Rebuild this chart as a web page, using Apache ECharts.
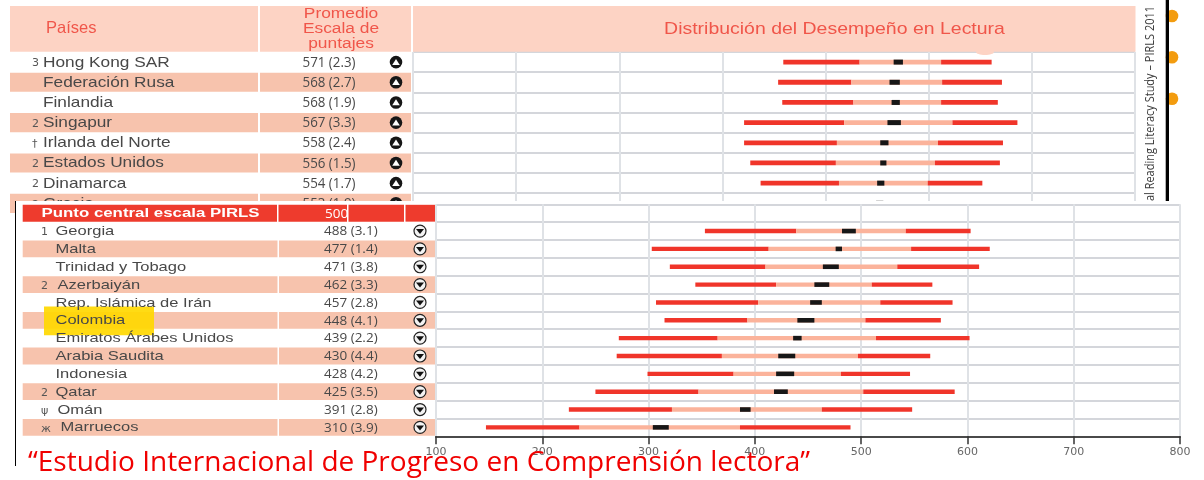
<!DOCTYPE html>
<html>
<head>
<meta charset="utf-8">
<title>PIRLS 2011</title>
<style>
  html, body { margin: 0; padding: 0; background: #fff; }
  #chart { width: 1204px; height: 480px; }
</style>
<script src="https://cdn.jsdelivr.net/npm/echarts@6/dist/echarts.min.js"></script>
</head>
<body>
<div id="chart"></div>
<script>
// top panel
var topCountries = ['Hong Kong SAR', 'Federación Rusa', 'Finlandia', 'Singapur', 'Irlanda del Norte', 'Estados Unidos', 'Dinamarca', 'Grecia'];
var topMarks = ['3', '', '', '2', '†', '2', '2', '2'];
var topScores = ['571 (2.3)', '568 (2.7)', '568 (1.9)', '567 (3.3)', '558 (2.4)', '556 (1.5)', '554 (1.7)', '553 (1.9)'];
var topP5 = [459, 454, 458, 421, 421, 427, 437, 448];
var topP25 = [533, 525, 527, 518, 511, 510, 513, 514];
var topLow = [566, 562, 564, 560, 553, 553, 550, 549];
var topHigh = [575, 572, 572, 573, 561, 559, 557, 556];
var topP75 = [612, 613, 612, 623, 609, 606, 599, 594];
var topP95 = [661, 671, 667, 686, 672, 669, 652, 647];

// bottom panel, first row is the scale centre point and has no bar
var botCountries = ['Punto central escala PIRLS', 'Georgia', 'Malta', 'Trinidad y Tobago', 'Azerbaiyán', 'Rep. Islámica de Irán', 'Colombia', 'Emiratos Árabes Unidos', 'Arabia Saudita', 'Indonesia', 'Qatar', 'Omán', 'Marruecos'];
var botMarks = ['', '1', '', '', '2', '', '', '', '', '', '2', 'ψ', 'ж'];
var botScores = ['500', '488 (3.1)', '477 (1.4)', '471 (3.8)', '462 (3.3)', '457 (2.8)', '448 (4.1)', '439 (2.2)', '430 (4.4)', '428 (4.2)', '425 (3.5)', '391 (2.8)', '310 (3.9)'];
var botP5 = [null, 353, 303, 320, 344, 307, 315, 272, 270, 299, 250, 225, 147];
var botP25 = [null, 439, 413, 410, 420, 403, 393, 365, 369, 380, 347, 322, 235];
var botLow = [null, 482, 476, 464, 456, 452, 440, 436, 422, 420, 418, 386, 304];
var botHigh = [null, 495, 482, 479, 470, 463, 456, 444, 438, 437, 431, 396, 319];
var botP75 = [null, 542, 547, 534, 510, 518, 504, 514, 497, 481, 502, 463, 386];
var botP95 = [null, 603, 621, 611, 567, 586, 575, 602, 565, 546, 588, 548, 490];

var axisTicks = ['100', '200', '300', '400', '500', '600', '700', '800'];

var RED = '#f0352a', PALE = '#fbb39b', BLACK = '#171717';
var BAND = '#f7c3ad', HEAD = '#fdd3c4', TITLE = '#f0564a';

var nameShift = { 'Azerbaiyán': 2, 'Omán': 2, 'Marruecos': 5 };

var myChart = echarts.init(document.getElementById('chart'));

function rowsOf(p5, p25, low, high, p75, p95) {
    var out = [];
    p5.forEach(function (v, i) {
        if (v != null) out.push([v, p25[i], low[i], high[i], p75[i], p95[i], i]);
    });
    return out;
}

function renderBars(barH, blackH) {
    return function (params, api) {
        var row = api.value(6);
        function piece(from, to, color, h) {
            var a = api.coord([api.value(from), row]);
            var b = api.coord([api.value(to), row]);
            return { type: 'rect', shape: { x: a[0], y: a[1] - h / 2, width: b[0] - a[0], height: h }, style: { fill: color } };
        }
        return {
            type: 'group',
            children: [
                piece(0, 1, RED, barH),
                piece(1, 4, PALE, barH),
                piece(4, 5, RED, barH),
                piece(2, 3, BLACK, blackH)
            ]
        };
    };
}

// pink stripes behind the table text, the red header row has its own columns
function renderBands(cols, pinkOdd, headCols) {
    return function (params, api) {
        var i = api.value(0);
        var h = api.size([0, 1])[1];
        var y = api.coord([0, i])[1] - h / 2;
        var kids = [];
        var first = headCols && i === 0;
        if (first || (i % 2 === 1) === pinkOdd) {
            (first ? headCols : cols).forEach(function (c) {
                var x0 = api.coord([c[0], i])[0], x1 = api.coord([c[1], i])[0];
                kids.push({ type: 'rect', shape: { x: x0, y: y + 0.5, width: x1 - x0, height: h - 1 }, style: { fill: first ? '#ee3b2d' : BAND } });
            });
        }
        if (headCols && botCountries[i] === 'Colombia') {
            kids.push({ type: 'rect', shape: { x: 44, y: y - 5, width: 110, height: h + 11 }, style: { fill: '#ffd800', opacity: 0.92 } });
        }
        return { type: 'group', children: kids };
    };
}

function renderText(cfg) {
    return function (params, api) {
        var i = api.value(0);
        var y = api.coord([0, i])[1];
        var first = cfg.header && i === 0;
        var color = first ? '#fff' : cfg.color;
        var nameX = cfg.nameX + (first ? -14 : (nameShift[cfg.names[i]] || 0));
        var kids = [{
            type: 'text', x: nameX, y: y + cfg.dy, scaleX: first ? cfg.nameScale * 1.02 : cfg.nameScale,
            style: { text: cfg.names[i], fill: color, font: (first ? 'bold ' : '') + cfg.nameSize + 'px "Liberation Sans"', verticalAlign: 'middle' }
        }, {
            type: 'text', x: first ? cfg.scoreX + 1 : cfg.scoreX, y: y + cfg.dy, scaleX: cfg.scoreScale,
            style: { text: cfg.scores[i], fill: color, font: cfg.scoreSize + 'px "Open Sans"', verticalAlign: 'middle' }
        }];
        if (cfg.marks[i]) {
            kids.push({
                type: 'text', x: cfg.markX, y: y + cfg.dy + 1,
                style: { text: cfg.marks[i], fill: '#555', font: '11px "DejaVu Sans"', verticalAlign: 'middle' }
            });
        }
        if (!first) {
            if (cfg.up) {
                kids.push({ type: 'circle', shape: { cx: cfg.iconX, cy: y, r: 6.3 }, style: { fill: '#161616' } });
                kids.push({ type: 'polygon', shape: { points: [[cfg.iconX, y - 3.2], [cfg.iconX + 3.8, y + 2.8], [cfg.iconX - 3.8, y + 2.8]] }, style: { fill: '#fff' } });
            } else {
                kids.push({ type: 'circle', shape: { cx: cfg.iconX, cy: y, r: 6 }, style: { fill: '#f3f3f3', stroke: '#222', lineWidth: 1.2 } });
                kids.push({ type: 'polygon', shape: { points: [[cfg.iconX - 4, y - 2], [cfg.iconX + 4, y - 2], [cfg.iconX, y + 3]] }, style: { fill: '#111' } });
            }
        }
        return { type: 'group', children: kids };
    };
}

function indexRows(list) {
    return list.map(function (c, i) { return [i]; });
}

function catAxis(list, gridIndex, z, lines) {
    return {
        type: 'category', gridIndex: gridIndex, data: list, inverse: true, z: z,
        show: lines,
        axisLine: { show: false }, axisTick: { show: false }, axisLabel: { show: false },
        splitLine: { show: lines, interval: 0, lineStyle: { color: '#c6c9cf', width: 1.5 } }
    };
}

function hiddenX(gridIndex, width) {
    return { type: 'value', gridIndex: gridIndex, min: 0, max: width, show: false, splitLine: { show: false } };
}

var option = {
    animation: false,
    backgroundColor: '#fff',
    grid: [
        { left: 413, width: 722, top: 52, height: 161.4 },
        { left: 0, width: 413, top: 52, height: 161.4 },
        { left: 436, width: 744, top: 204.3, height: 232 },
        { left: 0, width: 436, top: 204.3, height: 232 }
    ],
    xAxis: [
        {
            type: 'value', gridIndex: 0, min: 100, max: 800, interval: 100,
            axisLine: { show: false }, axisTick: { show: false }, axisLabel: { show: false },
            splitLine: { show: true, lineStyle: { color: '#dfe2e6', width: 2 } }
        },
        hiddenX(1, 413),
        {
            type: 'value', gridIndex: 2, min: 100, max: 800, interval: 100, z: 20,
            axisLine: { show: true, onZero: false, lineStyle: { color: '#4a4a4a', width: 2 } },
            axisTick: { show: true, length: 8, lineStyle: { color: '#333', width: 1.5 } },
            axisLabel: {
                margin: 10, color: '#666', fontSize: 11, fontFamily: 'DejaVu Sans',
                formatter: function (v) { return axisTicks[(v - 100) / 100]; }
            },
            splitLine: { show: true, lineStyle: { color: '#dfe2e6', width: 2 } }
        },
        hiddenX(3, 436)
    ],
    yAxis: [
        catAxis(topCountries, 0, 0, true),
        catAxis(topCountries, 1, 0, false),
        catAxis(botCountries, 2, 20, true),
        catAxis(botCountries, 3, 20, false)
    ],
    series: [
        {
            type: 'custom', xAxisIndex: 1, yAxisIndex: 1, z: 1,
            renderItem: renderBands([[10, 258], [260, 411]], true, null),
            data: indexRows(topCountries), encode: { y: 0 }
        },
        {
            type: 'custom', xAxisIndex: 1, yAxisIndex: 1, z: 2,
            renderItem: renderText({
                names: topCountries, marks: topMarks, scores: topScores, color: '#484848',
                nameX: 43, nameSize: 14.5, nameScale: 1.19, markX: 32,
                scoreX: 302.5, scoreSize: 14.5, scoreScale: 0.92, iconX: 396, up: true, dy: 0.5
            }),
            data: indexRows(topCountries), encode: { y: 0 }
        },
        {
            type: 'custom', xAxisIndex: 0, yAxisIndex: 0, z: 3, clip: false,
            renderItem: renderBars(4.8, 5),
            data: rowsOf(topP5, topP25, topLow, topHigh, topP75, topP95), encode: { x: [0, 5], y: 6 }
        },
        {
            type: 'custom', xAxisIndex: 3, yAxisIndex: 3, z: 21,
            renderItem: renderBands([[22.7, 277.5], [279, 435]], false, [[22.7, 277], [278.5, 347], [348.5, 404], [405.5, 435]]),
            data: indexRows(botCountries), encode: { y: 0 }
        },
        {
            type: 'custom', xAxisIndex: 3, yAxisIndex: 3, z: 22,
            renderItem: renderText({
                names: botCountries, marks: botMarks, scores: botScores, color: '#484848', header: true,
                nameX: 55.5, nameSize: 13, nameScale: 1.27, markX: 41,
                scoreX: 324, scoreSize: 13.5, scoreScale: 1, iconX: 420, up: false, dy: 0.5
            }),
            data: indexRows(botCountries), encode: { y: 0 }
        },
        {
            type: 'custom', xAxisIndex: 2, yAxisIndex: 2, z: 23,
            renderItem: renderBars(4.4, 4.6),
            data: rowsOf(botP5, botP25, botLow, botHigh, botP75, botP95), encode: { x: [0, 5], y: 6 }
        }
    ],
    graphic: {
        elements: [
            // header of the top table
            { type: 'rect', z: 1, shape: { x: 10, y: 6, width: 248, height: 45.7 }, style: { fill: HEAD } },
            { type: 'rect', z: 1, shape: { x: 260, y: 6, width: 151, height: 45.7 }, style: { fill: HEAD } },
            { type: 'rect', z: 1, shape: { x: 413, y: 6, width: 722.5, height: 45.7 }, style: { fill: HEAD } },
            { type: 'ellipse', z: 1, shape: { cx: 985, cy: 52, rx: 9, ry: 3 }, style: { fill: HEAD } },
            { type: 'text', z: 2, x: 46, y: 28.5, style: { text: 'Países', fill: TITLE, font: '16.5px "Liberation Sans"', verticalAlign: 'middle' } },
            { type: 'text', z: 2, x: 341, y: 13.5, scaleX: 1.12, style: { text: 'Promedio', fill: TITLE, font: '15.5px "Liberation Sans"', align: 'center', verticalAlign: 'middle' } },
            { type: 'text', z: 2, x: 341, y: 29, scaleX: 1.12, style: { text: 'Escala de', fill: TITLE, font: '15.5px "Liberation Sans"', align: 'center', verticalAlign: 'middle' } },
            { type: 'text', z: 2, x: 341, y: 44, scaleX: 1.12, style: { text: 'puntajes', fill: TITLE, font: '15.5px "Liberation Sans"', align: 'center', verticalAlign: 'middle' } },
            { type: 'text', z: 2, x: 834.5, y: 29, scaleX: 1.145, style: { text: 'Distribución del Desempeño en Lectura', fill: TITLE, font: '17px "Liberation Sans"', align: 'center', verticalAlign: 'middle' } },
            // page side decoration of the top scan
            { type: 'text', z: 2, x: 1150.5, y: 103.5, rotation: Math.PI / 2, scaleX: 0.88, style: { text: 'al Reading Literacy Study – PIRLS 2011', fill: '#3c3c3c', font: '12.5px "Open Sans"', align: 'center', verticalAlign: 'middle' } },
            { type: 'circle', z: 2, shape: { cx: 1172, cy: 16, r: 6.3 }, style: { fill: '#f39c0f' } },
            { type: 'circle', z: 2, shape: { cx: 1172, cy: 57.3, r: 6.3 }, style: { fill: '#f39c0f' } },
            { type: 'circle', z: 2, shape: { cx: 1172, cy: 98.7, r: 6.3 }, style: { fill: '#f39c0f' } },
            { type: 'rect', z: 3, shape: { x: 1165.7, y: 0, width: 3.3, height: 201 }, style: { fill: '#000' } },
            // white sheet of the bottom scan, covers the rest of the top table
            { type: 'rect', z: 10, shape: { x: 15, y: 201, width: 1189, height: 279 }, style: { fill: '#fff' } },
            { type: 'rect', z: 11, shape: { x: 15, y: 201, width: 1, height: 265 }, style: { fill: '#000' } },
            { type: 'text', z: 50, x: 28, y: 463, style: { text: '“Estudio Internacional de Progreso en Comprensión lectora”', fill: '#f00000', font: '28px "Open Sans"', verticalAlign: 'middle' } }
        ]
    }
};

myChart.setOption(option);
</script>
</body>
</html>
